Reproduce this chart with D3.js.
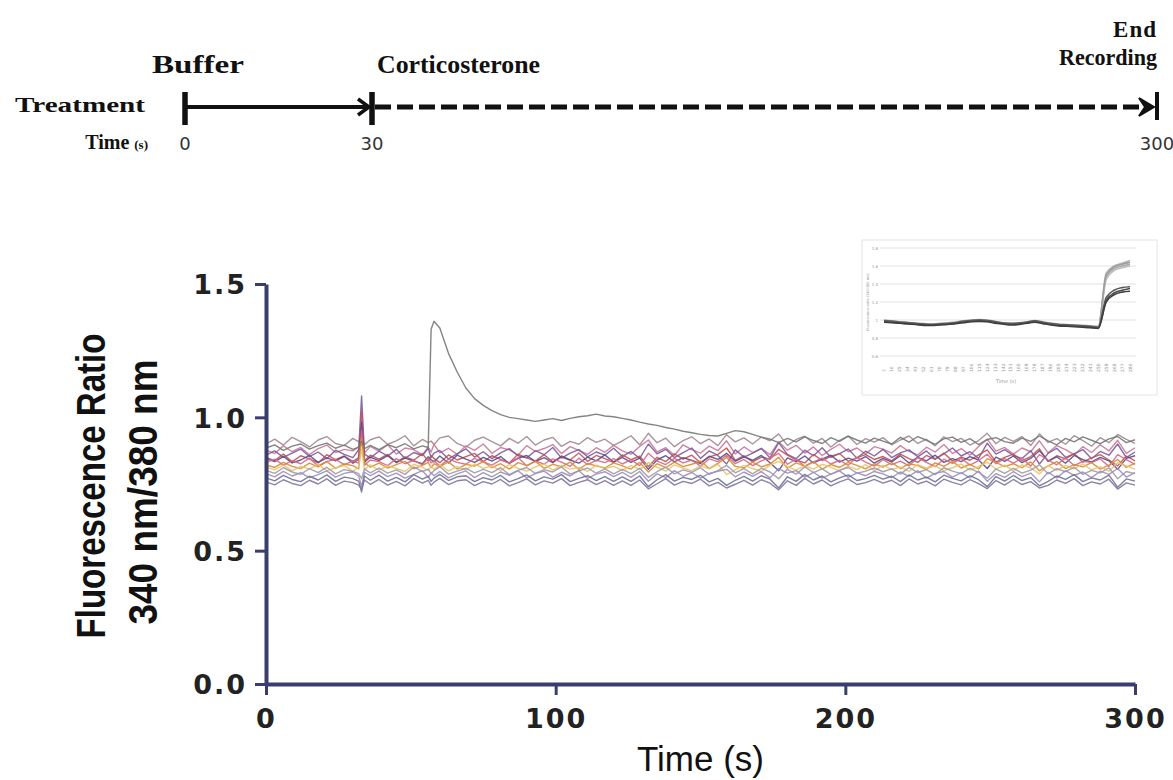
<!DOCTYPE html>
<html>
<head>
<meta charset="utf-8">
<script src="https://cdn.jsdelivr.net/npm/d3@7"></script>
<style>
  body { margin: 0; background: #fff; }
  svg { display: block; }
</style>
</head>
<body>
<div id="chart"></div>
<script>
// recording time points (s), extra samples around the 33 s artefact and the 57 s response
const times = [0,3,6,9,12,15,18,21,24,27,30,32,33,34,36,
  39,42,45,48,51,54,56,57,58,60,63,66,69,72,75,
  78,81,84,87,90,93,96,99,102,105,108,111,114,117,120,
  123,126,129,132,135,138,141,144,147,150,153,156,159,162,165,
  168,171,174,177,180,183,186,189,192,195,198,201,204,207,210,
  213,216,219,222,225,228,231,234,237,240,243,246,249,252,255,
  258,261,264,267,270,273,276,279,282,285,288,291,294,297,300];

// responding cell
const cellA = [0.885,0.897,0.876,0.892,0.900,0.881,0.894,0.903,0.884,0.896,0.880,0.888,0.910,0.883,0.895,
  0.879,0.898,0.886,0.901,0.882,0.893,0.887,1.330,1.360,1.335,1.240,1.170,1.110,1.070,1.045,
  1.025,1.010,1.000,0.995,0.990,0.985,0.990,0.995,0.988,0.996,1.002,1.006,1.012,1.005,1.002,
  0.996,0.990,0.982,0.975,0.970,0.962,0.956,0.948,0.942,0.936,0.932,0.930,0.940,0.950,0.946,
  0.936,0.926,0.918,0.905,0.921,0.908,0.927,0.913,0.902,0.924,0.910,0.929,0.915,0.903,0.922,
  0.911,0.900,0.925,0.907,0.928,0.914,0.899,0.919,0.926,0.906,0.920,0.898,0.917,0.924,0.909,
  0.903,0.922,0.910,0.930,0.912,0.897,0.921,0.908,0.927,0.914,0.901,0.919,0.928,0.905,0.916];

// non-responding cells
const cellB = [0.900,0.918,0.896,0.925,0.909,0.889,0.915,0.928,0.902,0.894,0.921,0.908,0.935,0.897,0.916,
  0.927,0.899,0.912,0.931,0.893,0.917,0.905,0.911,0.898,0.923,0.930,0.902,0.888,0.914,0.926,
  0.909,0.893,0.921,0.903,0.928,0.896,0.915,0.925,0.891,0.910,0.899,0.924,0.906,0.918,0.895,
  0.912,0.931,0.897,0.940,0.905,0.922,0.890,0.913,0.927,0.901,0.919,0.894,0.935,0.908,0.923,
  0.900,0.926,0.912,0.938,0.895,0.917,0.929,0.903,0.921,0.889,0.914,0.930,0.898,0.920,0.907,
  0.924,0.897,0.915,0.930,0.902,0.918,0.893,0.927,0.909,0.921,0.896,0.913,0.940,0.901,0.925,
  0.910,0.928,0.894,0.938,0.906,0.920,0.899,0.931,0.913,0.892,0.924,0.905,0.936,0.917,0.902];
const cellC = [0.878,0.864,0.893,0.871,0.887,0.860,0.883,0.896,0.868,0.880,0.874,0.889,0.935,0.866,0.891,
  0.873,0.897,0.862,0.885,0.879,0.859,0.888,0.870,0.899,0.867,0.884,0.861,0.893,0.876,0.900,
  0.865,0.887,0.878,0.858,0.894,0.872,0.883,0.898,0.864,0.890,0.876,0.861,0.886,0.869,0.895,
  0.874,0.862,0.891,0.915,0.870,0.886,0.858,0.897,0.879,0.866,0.892,0.875,0.912,0.863,0.889,
  0.868,0.884,0.860,0.908,0.877,0.895,0.866,0.889,0.857,0.880,0.899,0.871,0.885,0.862,0.890,
  0.881,0.866,0.894,0.872,0.859,0.888,0.870,0.898,0.864,0.883,0.858,0.891,0.918,0.873,0.887,
  0.862,0.885,0.871,0.912,0.867,0.894,0.879,0.860,0.890,0.868,0.897,0.874,0.914,0.865,0.886];
const cellD = [0.858,0.874,0.850,0.866,0.881,0.853,0.870,0.845,0.877,0.861,0.849,0.879,1.080,0.862,0.848,
  0.873,0.855,0.880,0.846,0.868,0.857,0.884,0.849,0.866,0.876,0.844,0.863,0.882,0.851,0.871,
  0.845,0.867,0.883,0.856,0.848,0.875,0.860,0.887,0.847,0.866,0.879,0.852,0.870,0.858,0.884,
  0.853,0.872,0.846,0.900,0.863,0.880,0.849,0.868,0.885,0.846,0.874,0.857,0.825,0.878,0.851,
  0.866,0.883,0.848,0.905,0.861,0.845,0.877,0.856,0.886,0.850,0.864,0.881,0.847,0.873,0.855,
  0.880,0.849,0.867,0.878,0.852,0.874,0.844,0.863,0.885,0.855,0.871,0.846,0.903,0.862,0.879,
  0.857,0.846,0.875,0.825,0.865,0.884,0.850,0.863,0.879,0.845,0.872,0.858,0.900,0.849,0.870];
const cellE = [0.850,0.838,0.862,0.833,0.856,0.844,0.829,0.860,0.841,0.855,0.835,0.849,1.020,0.837,0.858,
  0.843,0.861,0.832,0.852,0.839,0.864,0.836,0.857,0.846,0.830,0.859,0.840,0.853,0.865,0.834,
  0.856,0.842,0.829,0.862,0.848,0.836,0.860,0.833,0.851,0.840,0.866,0.835,0.857,0.845,0.831,
  0.859,0.841,0.854,0.815,0.850,0.834,0.863,0.843,0.858,0.830,0.852,0.861,0.885,0.839,0.856,
  0.833,0.851,0.843,0.880,0.858,0.840,0.829,0.861,0.838,0.854,0.864,0.835,0.849,0.860,0.842,
  0.853,0.837,0.862,0.845,0.831,0.857,0.842,0.866,0.836,0.851,0.839,0.859,0.878,0.832,0.850,
  0.862,0.838,0.853,0.882,0.835,0.856,0.844,0.864,0.832,0.848,0.860,0.840,0.818,0.855,0.837];
const cellF = [0.845,0.834,0.853,0.829,0.840,0.857,0.831,0.848,0.837,0.854,0.828,0.842,0.980,0.832,0.851,
  0.838,0.856,0.830,0.847,0.836,0.826,0.852,0.841,0.833,0.855,0.829,0.858,0.843,0.831,0.850,
  0.836,0.853,0.827,0.846,0.857,0.834,0.849,0.830,0.855,0.840,0.828,0.851,0.837,0.859,0.832,
  0.850,0.831,0.847,0.805,0.840,0.856,0.833,0.849,0.838,0.827,0.854,0.842,0.865,0.835,0.852,
  0.839,0.857,0.830,0.800,0.848,0.834,0.855,0.829,0.843,0.858,0.832,0.847,0.836,0.853,0.828,
  0.846,0.833,0.856,0.829,0.850,0.837,0.858,0.831,0.845,0.834,0.853,0.840,0.808,0.851,0.835,
  0.855,0.830,0.846,0.875,0.836,0.852,0.828,0.857,0.841,0.833,0.850,0.837,0.805,0.846,0.856];
const cellG = [0.830,0.843,0.821,0.838,0.826,0.847,0.818,0.835,0.842,0.823,0.836,0.828,0.950,0.820,0.840,
  0.834,0.819,0.845,0.826,0.839,0.822,0.848,0.829,0.837,0.817,0.843,0.831,0.824,0.846,0.833,
  0.821,0.840,0.828,0.849,0.818,0.836,0.825,0.844,0.832,0.816,0.847,0.823,0.839,0.830,0.845,
  0.825,0.841,0.819,0.865,0.836,0.823,0.846,0.829,0.840,0.817,0.844,0.834,0.858,0.826,0.842,
  0.819,0.837,0.848,0.865,0.824,0.843,0.816,0.833,0.847,0.825,0.839,0.820,0.850,0.832,0.817,
  0.841,0.823,0.836,0.818,0.849,0.831,0.815,0.843,0.827,0.846,0.821,0.838,0.862,0.826,0.845,
  0.828,0.847,0.817,0.860,0.840,0.822,0.848,0.819,0.835,0.830,0.844,0.816,0.860,0.841,0.824];
const cellH = [0.822,0.812,0.831,0.816,0.808,0.828,0.814,0.834,0.809,0.825,0.819,0.807,0.920,0.830,0.813,
  0.828,0.810,0.823,0.835,0.807,0.820,0.831,0.811,0.826,0.815,0.833,0.806,0.824,0.817,0.834,
  0.811,0.826,0.806,0.830,0.819,0.835,0.809,0.824,0.814,0.832,0.805,0.827,0.818,0.810,0.829,
  0.818,0.806,0.831,0.795,0.826,0.811,0.832,0.815,0.824,0.836,0.808,0.827,0.850,0.816,0.810,
  0.832,0.814,0.825,0.850,0.809,0.829,0.817,0.834,0.806,0.823,0.812,0.831,0.820,0.807,0.826,
  0.813,0.830,0.808,0.826,0.819,0.805,0.829,0.816,0.835,0.810,0.824,0.807,0.845,0.831,0.815,
  0.826,0.811,0.833,0.800,0.818,0.834,0.808,0.823,0.814,0.830,0.806,0.821,0.842,0.812,0.828];
const cellI = [0.813,0.803,0.821,0.799,0.816,0.807,0.823,0.800,0.811,0.819,0.798,0.814,0.880,0.804,0.822,
  0.802,0.818,0.808,0.797,0.824,0.812,0.801,0.817,0.805,0.822,0.799,0.815,0.803,0.825,0.809,
  0.817,0.800,0.823,0.809,0.798,0.814,0.825,0.802,0.819,0.806,0.812,0.797,0.821,0.808,0.816,
  0.801,0.819,0.805,0.830,0.813,0.798,0.822,0.810,0.800,0.818,0.807,0.824,0.785,0.803,0.820,
  0.808,0.797,0.821,0.835,0.815,0.802,0.819,0.806,0.824,0.812,0.799,0.817,0.804,0.823,0.800,
  0.820,0.805,0.814,0.797,0.823,0.809,0.818,0.800,0.811,0.825,0.802,0.816,0.832,0.806,0.821,
  0.799,0.822,0.810,0.788,0.819,0.801,0.820,0.807,0.825,0.803,0.815,0.798,0.830,0.818,0.806];
const cellJ = [0.801,0.790,0.811,0.795,0.786,0.808,0.793,0.813,0.788,0.804,0.797,0.789,0.770,0.807,0.792,
  0.810,0.791,0.803,0.786,0.814,0.796,0.806,0.789,0.800,0.815,0.787,0.798,0.809,0.792,0.805,
  0.793,0.811,0.785,0.801,0.812,0.790,0.804,0.795,0.814,0.787,0.799,0.810,0.791,0.807,0.788,
  0.805,0.789,0.809,0.775,0.796,0.813,0.788,0.803,0.794,0.811,0.786,0.800,0.820,0.792,0.808,
  0.788,0.809,0.795,0.770,0.805,0.787,0.814,0.793,0.807,0.786,0.802,0.812,0.791,0.798,0.810,
  0.796,0.807,0.787,0.812,0.793,0.804,0.785,0.811,0.798,0.789,0.809,0.794,0.772,0.806,0.790,
  0.809,0.791,0.802,0.822,0.788,0.808,0.796,0.813,0.786,0.801,0.792,0.811,0.770,0.797,0.789];
const cellK = [0.789,0.777,0.797,0.780,0.793,0.774,0.785,0.799,0.776,0.790,0.796,0.779,0.740,0.794,0.781,
  0.798,0.778,0.791,0.772,0.786,0.800,0.775,0.792,0.781,0.797,0.773,0.788,0.799,0.774,0.793,
  0.777,0.795,0.782,0.800,0.773,0.789,0.798,0.776,0.794,0.780,0.801,0.771,0.787,0.796,0.778,
  0.794,0.775,0.797,0.760,0.788,0.774,0.800,0.779,0.793,0.772,0.790,0.798,0.805,0.777,0.795,
  0.779,0.796,0.773,0.808,0.791,0.800,0.776,0.794,0.772,0.787,0.799,0.775,0.792,0.781,0.797,
  0.788,0.774,0.795,0.779,0.800,0.772,0.790,0.797,0.776,0.793,0.773,0.799,0.760,0.789,0.775,
  0.796,0.778,0.791,0.758,0.794,0.773,0.800,0.782,0.795,0.774,0.798,0.786,0.808,0.776,0.793];
const cellL = [0.773,0.762,0.782,0.767,0.759,0.779,0.765,0.784,0.760,0.776,0.770,0.761,0.720,0.780,0.764,
  0.783,0.761,0.775,0.758,0.785,0.768,0.779,0.760,0.772,0.786,0.763,0.777,0.781,0.759,0.774,
  0.765,0.782,0.758,0.770,0.784,0.762,0.777,0.768,0.785,0.759,0.771,0.781,0.763,0.778,0.760,
  0.777,0.760,0.780,0.740,0.766,0.785,0.761,0.775,0.767,0.783,0.758,0.771,0.745,0.764,0.779,
  0.761,0.781,0.768,0.735,0.777,0.760,0.786,0.765,0.780,0.758,0.773,0.784,0.763,0.770,0.782,
  0.768,0.779,0.759,0.784,0.765,0.776,0.758,0.783,0.771,0.762,0.781,0.766,0.740,0.778,0.761,
  0.782,0.763,0.774,0.743,0.760,0.780,0.767,0.785,0.759,0.773,0.765,0.783,0.738,0.769,0.761];
const cellM = [0.758,0.747,0.766,0.752,0.744,0.764,0.750,0.769,0.745,0.761,0.755,0.746,0.730,0.765,0.749,
  0.767,0.746,0.760,0.743,0.770,0.753,0.764,0.745,0.757,0.771,0.748,0.762,0.766,0.744,0.759,
  0.750,0.767,0.743,0.755,0.769,0.747,0.762,0.753,0.770,0.744,0.756,0.766,0.748,0.763,0.745,
  0.762,0.745,0.765,0.732,0.751,0.770,0.746,0.760,0.752,0.768,0.743,0.756,0.735,0.749,0.764,
  0.746,0.766,0.753,0.728,0.762,0.745,0.771,0.750,0.765,0.743,0.758,0.769,0.748,0.755,0.767,
  0.753,0.764,0.744,0.769,0.750,0.761,0.743,0.768,0.756,0.747,0.766,0.751,0.733,0.763,0.746,
  0.767,0.748,0.759,0.735,0.745,0.765,0.752,0.770,0.744,0.758,0.750,0.768,0.731,0.754,0.746];

const yTicks = [0, 0.5, 1.0, 1.5];
const xTicks = [0, 100, 200, 300];

// treatment timeline
const phaseTimes = [0, 30, 300];
const phaseLabels = ["Buffer", "Corticosterone"];

// inset (whole-population recording)
const insetLabels = ["7","16","25","34","43","52","61","70","79","88","97","106","115","124","133","142",
  "151","160","169","178","187","196","205","214","223","232","241","250","259","268","277","286"];
const insetYTicks = [0.6, 0.8, 1.0, 1.2, 1.4, 1.6, 1.8];
const inLight1 = [0.99,0.985,0.975,0.97,0.96,0.955,0.95,0.955,0.96,0.97,0.985,0.995,1.0,0.995,0.98,0.965,0.96,0.965,0.975,0.99,0.975,0.96,0.95,0.945,0.94,0.935,0.93,0.925,1.52,1.60,1.63,1.66];
const inLight2 = [1.0,0.99,0.98,0.975,0.965,0.96,0.955,0.96,0.97,0.975,0.99,1.0,1.005,1.0,0.985,0.97,0.965,0.97,0.98,0.995,0.98,0.965,0.955,0.95,0.945,0.94,0.935,0.93,1.48,1.57,1.60,1.62];
const inLight3 = [0.98,0.975,0.97,0.96,0.955,0.945,0.945,0.95,0.955,0.965,0.975,0.985,0.99,0.985,0.97,0.955,0.95,0.955,0.97,0.98,0.965,0.95,0.94,0.935,0.93,0.925,0.92,0.915,1.45,1.55,1.58,1.60];
const inLight4 = [0.995,0.99,0.98,0.97,0.965,0.955,0.955,0.96,0.965,0.975,0.99,0.995,1.0,0.99,0.975,0.965,0.955,0.96,0.975,0.985,0.97,0.955,0.945,0.94,0.935,0.93,0.925,0.92,1.50,1.59,1.62,1.64];
const inDark1 = [0.985,0.98,0.97,0.965,0.955,0.95,0.945,0.95,0.955,0.965,0.98,0.99,0.995,0.99,0.975,0.96,0.955,0.96,0.97,0.985,0.97,0.955,0.945,0.94,0.935,0.93,0.925,0.91,1.22,1.30,1.33,1.35];
const inDark2 = [0.99,0.985,0.975,0.97,0.96,0.955,0.95,0.955,0.96,0.97,0.985,0.995,1.0,0.995,0.98,0.965,0.96,0.965,0.975,0.99,0.975,0.96,0.95,0.945,0.94,0.935,0.93,0.92,1.25,1.33,1.36,1.37];
const inDark3 = [0.975,0.97,0.965,0.955,0.95,0.94,0.94,0.945,0.95,0.96,0.97,0.98,0.985,0.98,0.965,0.955,0.945,0.95,0.965,0.975,0.96,0.945,0.935,0.93,0.925,0.92,0.915,0.905,1.20,1.28,1.31,1.32];

(function() {
    const W = 1173, H = 780;
    const axisColor = "#3b3e6c";

    const svg = d3.select("#chart").append("svg")
        .attr("width", W)
        .attr("height", H);
    svg.append("rect").attr("width", W).attr("height", H).attr("fill", "#fff");

    // ---- treatment timeline ----
    const tl = d3.scaleLinear().domain(phaseTimes).range([185, 372, 1157]);
    const tlY = 107;
    const serif = "'Liberation Serif', 'Times New Roman', serif";
    const top = svg.append("g").attr("fill", "#111");

    top.append("text").attr("x", 145).attr("y", tlY + 5)
        .attr("text-anchor", "end")
        .attr("font-family", serif).attr("font-weight", "bold").attr("font-size", 21)
        .attr("textLength", 130).attr("lengthAdjust", "spacingAndGlyphs")
        .text("Treatment");

    const timeLbl = top.append("text").attr("x", 148).attr("y", tlY + 42)
        .attr("text-anchor", "end")
        .attr("font-family", serif).attr("font-weight", "bold").attr("font-size", 20);
    timeLbl.append("tspan").text("Time ");
    timeLbl.append("tspan").attr("font-size", 13).text("(s)");

    top.selectAll(".phase")
        .data(phaseLabels)
        .enter().append("text")
        .attr("class", "phase")
        .attr("x", (d, i) => i === 0 ? 152 : 377)
        .attr("y", 73)
        .attr("font-family", serif).attr("font-weight", "bold").attr("font-size", 26)
        .attr("textLength", (d, i) => i === 0 ? 92 : 163).attr("lengthAdjust", "spacingAndGlyphs")
        .text(d => d);

    top.append("text").attr("x", tl(300)).attr("y", 37)
        .attr("text-anchor", "end")
        .attr("font-family", serif).attr("font-weight", "bold").attr("font-size", 23)
        .attr("letter-spacing", 1)
        .text("End");
    top.append("text").attr("x", tl(300)).attr("y", 65)
        .attr("text-anchor", "end")
        .attr("font-family", serif).attr("font-weight", "bold").attr("font-size", 23)
        .attr("textLength", 98).attr("lengthAdjust", "spacingAndGlyphs")
        .text("Recording");

    top.selectAll(".ptime")
        .data(phaseTimes)
        .enter().append("text")
        .attr("class", "ptime")
        .attr("x", d => tl(d))
        .attr("y", tlY + 43)
        .attr("text-anchor", "middle")
        .attr("font-family", "'DejaVu Sans', sans-serif").attr("font-size", 18)
        .attr("fill", "#333")
        .text(d => d);

    // solid buffer arrow
    top.append("line")
        .attr("x1", tl(0)).attr("x2", tl(30) - 4)
        .attr("y1", tlY).attr("y2", tlY)
        .attr("stroke", "#111").attr("stroke-width", 4);
    top.append("path")
        .attr("d", `M${tl(30) - 14},${tlY - 8}L${tl(30) - 3},${tlY}L${tl(30) - 14},${tlY + 8}`)
        .attr("fill", "none").attr("stroke", "#111").attr("stroke-width", 3.5);

    // dashed corticosterone arrow
    top.append("line")
        .attr("x1", tl(30) + 3).attr("x2", tl(300) - 14)
        .attr("y1", tlY).attr("y2", tlY)
        .attr("stroke", "#111").attr("stroke-width", 5)
        .attr("stroke-dasharray", "16,6");
    top.append("path")
        .attr("d", `M${tl(300) - 18},${tlY - 9}L${tl(300) - 3},${tlY}L${tl(300) - 18},${tlY + 9}L${tl(300) - 12},${tlY}Z`)
        .attr("fill", "#111").attr("stroke", "#111").attr("stroke-width", 2);

    // phase bars
    top.selectAll(".pbar")
        .data(phaseTimes)
        .enter().append("line")
        .attr("class", "pbar")
        .attr("x1", d => tl(d)).attr("x2", d => tl(d))
        .attr("y1", tlY - 15).attr("y2", d => tlY + (d === 300 ? 13 : 18))
        .attr("stroke", "#111").attr("stroke-width", d => d === 300 ? 4 : 5.5);

    // ---- main chart ----
    const x = d3.scaleLinear().domain([0, 300]).range([266, 1135]);
    const y = d3.scaleLinear().domain([0, 1.5]).range([684, 284]);

    const traces = [cellB, cellC, cellD, cellE, cellF, cellG, cellH, cellI, cellJ, cellK, cellL, cellM, cellA];
    const colors = ["#a3878f", "#c9789a", "#7b5a9e", "#c4504f", "#574c8c", "#d8668a",
                    "#dd8a2c", "#e8c36c", "#9d9aa8", "#a08cbc", "#6c7396", "#84739f", "#737a70"];

    const line = d3.line()
        .x((d, i) => x(times[i]))
        .y(d => y(d));

    svg.append("g")
        .selectAll("path")
        .data(traces)
        .enter().append("path")
        .attr("d", line)
        .attr("fill", "none")
        .attr("stroke", (d, i) => colors[i])
        .attr("stroke-width", 1.4)
        .attr("stroke-opacity", 0.9)
        .attr("stroke-linejoin", "round");

    const tickFont = "'DejaVu Sans', sans-serif";

    const yAxis = svg.append("g")
        .attr("transform", `translate(${x(0)},0)`)
        .call(d3.axisLeft(y).tickValues(yTicks).tickFormat(d3.format(".1f"))
            .tickSize(11).tickSizeOuter(0).tickPadding(8));
    const xAxis = svg.append("g")
        .attr("transform", `translate(0,${y(0)})`)
        .call(d3.axisBottom(x).tickValues(xTicks).tickFormat(d3.format("d"))
            .tickSize(11).tickSizeOuter(0).tickPadding(9));

    [yAxis, xAxis].forEach(ax => {
        ax.select(".domain").attr("stroke", axisColor).attr("stroke-width", 4);
        ax.selectAll(".tick line").attr("stroke", axisColor).attr("stroke-width", 3);
        ax.selectAll(".tick text")
            .attr("font-family", tickFont).attr("font-weight", "bold").attr("font-size", 27)
            .attr("letter-spacing", 2)
            .attr("fill", "#222");
    });
    yAxis.selectAll(".tick text").attr("dy", "0.36em");
    xAxis.selectAll(".tick text").attr("dy", "0.9em");

    // axis titles
    const narrow = "'Liberation Sans Narrow', 'Arial Narrow', sans-serif";
    svg.append("text")
        .attr("transform", `translate(105,486) rotate(-90)`)
        .attr("text-anchor", "middle")
        .attr("font-family", narrow).attr("font-weight", "bold").attr("font-size", 40)
        .attr("textLength", 305).attr("lengthAdjust", "spacingAndGlyphs")
        .attr("fill", "#111")
        .text("Fluorescence Ratio");
    svg.append("text")
        .attr("transform", `translate(157,492) rotate(-90)`)
        .attr("text-anchor", "middle")
        .attr("font-family", narrow).attr("font-weight", "bold").attr("font-size", 40)
        .attr("textLength", 265).attr("lengthAdjust", "spacingAndGlyphs")
        .attr("fill", "#111")
        .text("340 nm/380 nm");
    svg.append("text")
        .attr("x", (x(0) + x(300)) / 2)
        .attr("y", 771)
        .attr("text-anchor", "middle")
        .attr("font-family", "'Liberation Sans', Arial, sans-serif").attr("font-size", 35)
        .attr("fill", "#111")
        .text("Time (s)");

    // ---- inset ----
    const inset = svg.append("g");
    inset.append("rect")
        .attr("x", 862).attr("y", 240).attr("width", 295).attr("height", 155)
        .attr("fill", "#fff").attr("stroke", "#e4e4e4").attr("stroke-width", 1);

    const ix = d3.scaleLinear().domain([0, insetLabels.length - 1]).range([884, 1130]);
    const iy = d3.scaleLinear().domain([0.6, 1.8]).range([356, 248]);

    inset.selectAll(".grid")
        .data(insetYTicks)
        .enter().append("line")
        .attr("x1", 880).attr("x2", 1136)
        .attr("y1", d => iy(d)).attr("y2", d => iy(d))
        .attr("stroke", "#e2e2e2").attr("stroke-width", 1);
    inset.selectAll(".iyt")
        .data(insetYTicks)
        .enter().append("text")
        .attr("x", 878).attr("y", d => iy(d) + 1.5)
        .attr("text-anchor", "end")
        .attr("font-family", "'DejaVu Sans', sans-serif").attr("font-size", 4)
        .attr("fill", "#999")
        .text(d => d3.format(".1f")(d).replace(/\.0$/, ""));
    inset.selectAll(".ixt")
        .data(insetLabels)
        .enter().append("text")
        .attr("transform", (d, i) => `translate(${ix(i) + 1.5},372) rotate(-90)`)
        .attr("font-family", "'DejaVu Sans', sans-serif").attr("font-size", 4.5)
        .attr("fill", "#999")
        .text(d => d);
    inset.append("text")
        .attr("x", 1006).attr("y", 383)
        .attr("text-anchor", "middle")
        .attr("font-family", "'DejaVu Sans', sans-serif").attr("font-size", 5)
        .attr("fill", "#999")
        .text("Time (s)");
    inset.append("text")
        .attr("transform", "translate(869,302) rotate(-90)")
        .attr("text-anchor", "middle")
        .attr("font-family", "'DejaVu Sans', sans-serif").attr("font-size", 3.5)
        .attr("fill", "#999")
        .text("Fluorescence ratio (340/380 nm)");

    const iline = d3.line()
        .x((d, i) => ix(i))
        .y(d => iy(d))
        .curve(d3.curveMonotoneX);
    const insetTraces = [inLight1, inLight2, inLight3, inLight4, inDark1, inDark2, inDark3];
    const insetColors = ["#b4b4b4", "#a8a8a8", "#bdbdbd", "#9e9e9e", "#4a4a4a", "#5a5a5a", "#3e3e3e"];
    inset.append("g")
        .selectAll("path")
        .data(insetTraces)
        .enter().append("path")
        .attr("d", iline)
        .attr("fill", "none")
        .attr("stroke", (d, i) => insetColors[i])
        .attr("stroke-width", 1.6);
})();
</script>
</body>
</html>
